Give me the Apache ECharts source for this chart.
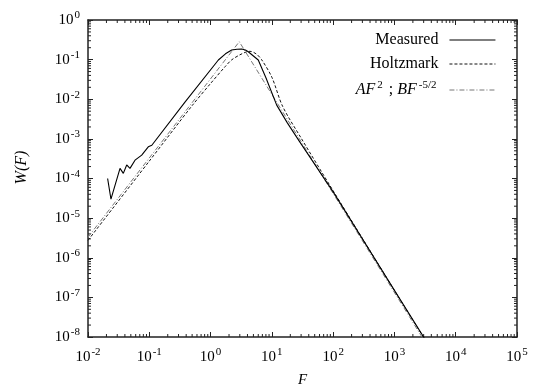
<!DOCTYPE html>
<html>
<head>
<meta charset="utf-8">
<script src="https://cdn.jsdelivr.net/npm/echarts@6/dist/echarts.min.js"></script>
<style>
  html, body { margin: 0; padding: 0; background: #fff; }
  #chart { width: 536px; height: 385px; }
</style>
</head>
<body>
<div id="chart"></div>
<script>
// values
const measuredF = [0.0209, 0.0237, 0.0333, 0.0377, 0.0428, 0.0484, 0.0585, 0.0752, 0.0963, 0.11, 0.382, 1.34, 1.75, 2.21, 2.7, 3.21, 3.7, 4.12, 6.0, 8.0, 12.0, 18.0, 28.7, 100, 1000, 3500];
const measuredW = [1.0e-4, 3.0e-5, 1.8e-4, 1.35e-4, 2.2e-4, 1.8e-4, 2.9e-4, 3.9e-4, 6.3e-4, 6.9e-4, 8.5e-3, 0.098, 0.14, 0.175, 0.183, 0.185, 0.175, 0.158, 0.098, 0.035, 7.1e-3, 2.5e-3, 8.3e-4, 4.6e-5, 1.5e-7, 6.8e-9];

const holtzF = [0.01, 0.1, 0.5, 1, 1.72, 2.2, 3.0, 3.9, 4.4, 5.6, 6.8, 10, 15, 30, 100, 1000, 3500];
const holtzW = [2.75e-6, 2.75e-4, 6.9e-3, 0.025, 0.066, 0.098, 0.132, 0.158, 0.162, 0.138, 0.1, 0.036, 6.6e-3, 1.05e-3, 4.9e-5, 1.5e-7, 6.6e-9];

const powerF = [0.01, 2.94, 3500];
const powerW = [3.3e-6, 0.283, 5.8e-9];

const xDecades = [-2, -1, 0, 1, 2, 3, 4];
const yDecades = [-8, -7, -6, -5, -4, -3, -2, -1];
const minorSteps = [2, 3, 4, 5, 6, 7, 8, 9];

const X_MIN = 1e-2, X_MAX = 1e5, Y_MIN = 1e-8, Y_MAX = 1;
const FONT = "'Liberation Serif', 'DejaVu Serif', serif";

function pairs(xs, ys) {
  return xs.map((x, i) => [x, ys[i]]);
}

function minorValues(decades) {
  const out = [];
  decades.forEach((d) => minorSteps.forEach((m) => out.push(m * Math.pow(10, d))));
  return out;
}

const powLabel = (v) => {
  const e = Math.round(Math.log10(v));
  return "{b|10}{s|" + e + "}";
};

const labelRich = {
  b: { fontFamily: FONT, fontSize: 15, color: "#000" },
  s: { fontFamily: FONT, fontSize: 11, color: "#000", verticalAlign: "bottom", padding: [0, 0, 9, 1] },
};

const measuredStyle = { color: "#000", width: 1.1, type: "solid" };
const holtzStyle = { color: "#111", width: 1, type: [3, 2] };
const powerStyle = { color: "#777", width: 1, type: [5, 2, 1, 2] };

const chart = echarts.init(document.getElementById("chart"));

function baseAxis(extra) {
  return Object.assign({
    type: "log",
    logBase: 10,
    interval: 1,
    axisLine: { show: true, lineStyle: { color: "#222", width: 1.5 } },
    axisTick: { show: true, inside: true, length: 5, lineStyle: { color: "#222", width: 1 } },
    splitLine: { show: false },
    minorTick: { show: false },
  }, extra);
}

const tickLen = 3;

chart.setOption({
  animation: false,
  backgroundColor: "#fff",
  grid: { left: 88, right: 19, top: 20, bottom: 48, outerBoundsMode: "none", containLabel: false },
  legend: {
    orient: "vertical",
    right: 35,
    top: 27,
    align: "right",
    itemWidth: 46,
    itemHeight: 10,
    itemGap: 8,
    data: [
      { name: "Measured", lineStyle: measuredStyle, itemStyle: { opacity: 0 } },
      { name: "Holtzmark", lineStyle: holtzStyle, itemStyle: { opacity: 0 } },
      { name: "Power", lineStyle: powerStyle, itemStyle: { opacity: 0 } },
    ],
    formatter: (name) => name === "Power"
      ? "{i|AF}{s|2}{n| ; }{i|BF}{s|-5/2}"
      : "{n|" + name + "}",
    textStyle: {
      padding: [0, 6, 0, 0],
      rich: {
        n: { fontFamily: FONT, fontSize: 16, color: "#000" },
        i: { fontFamily: FONT, fontSize: 16, fontStyle: "italic", color: "#000" },
        s: { fontFamily: FONT, fontSize: 11, color: "#000", verticalAlign: "bottom", padding: [0, 2, 9, 2] },
      },
    },
  },
  xAxis: [
    baseAxis({
      min: X_MIN, max: X_MAX, position: "bottom",
      name: "F", nameLocation: "middle", nameGap: 36,
      nameTextStyle: { fontFamily: FONT, fontSize: 15, fontStyle: "italic", color: "#000" },
      axisLabel: { formatter: powLabel, rich: labelRich, margin: 10 },
    }),
    baseAxis({
      min: X_MIN, max: X_MAX, position: "top",
      axisLabel: { show: false },
    }),
  ],
  yAxis: [
    baseAxis({
      min: Y_MIN, max: Y_MAX, position: "left",
      name: "W(F)", nameLocation: "middle", nameGap: 58,
      nameTextStyle: { fontFamily: FONT, fontSize: 16, fontStyle: "italic", color: "#000", padding: [0, 0, 0, 22] },
      axisLabel: { formatter: powLabel, rich: labelRich, margin: 8 },
    }),
    baseAxis({
      min: Y_MIN, max: Y_MAX, position: "right",
      axisLabel: { show: false },
    }),
  ],
  series: [
    {
      name: "Measured",
      type: "line",
      symbol: "none",
      data: pairs(measuredF, measuredW),
      lineStyle: measuredStyle,
      itemStyle: { color: "#000" },
      z: 4,
    },
    {
      name: "Holtzmark",
      type: "line",
      symbol: "none",
      smooth: 0.3,
      data: pairs(holtzF, holtzW),
      lineStyle: holtzStyle,
      itemStyle: { color: "#111" },
      z: 3,
    },
    {
      name: "Power",
      type: "line",
      symbol: "none",
      data: pairs(powerF, powerW),
      lineStyle: powerStyle,
      itemStyle: { color: "#777" },
      z: 3,
    },
    {
      // minor ticks on bottom and top axes, at 2..9 of each decade
      type: "custom",
      silent: true,
      clip: false,
      data: minorValues(xDecades).map((v) => [v, 1e-4]),
      renderItem: (params, api) => {
        const b = api.coord([api.value(0), Y_MIN]);
        const t = api.coord([api.value(0), Y_MAX]);
        const st = { stroke: "#222", lineWidth: 1 };
        return {
          type: "group",
          children: [
            { type: "line", shape: { x1: b[0], y1: b[1], x2: b[0], y2: b[1] - tickLen }, style: st },
            { type: "line", shape: { x1: t[0], y1: t[1], x2: t[0], y2: t[1] + tickLen }, style: st },
          ],
        };
      },
    },
    {
      // minor ticks on left and right axes
      type: "custom",
      silent: true,
      clip: false,
      data: minorValues(yDecades).map((v) => [1, v]),
      renderItem: (params, api) => {
        const l = api.coord([X_MIN, api.value(1)]);
        const r = api.coord([X_MAX, api.value(1)]);
        const st = { stroke: "#222", lineWidth: 1 };
        return {
          type: "group",
          children: [
            { type: "line", shape: { x1: l[0], y1: l[1], x2: l[0] + tickLen, y2: l[1] }, style: st },
            { type: "line", shape: { x1: r[0], y1: r[1], x2: r[0] - tickLen, y2: r[1] }, style: st },
          ],
        };
      },
    },
  ],
});
</script>
</body>
</html>
